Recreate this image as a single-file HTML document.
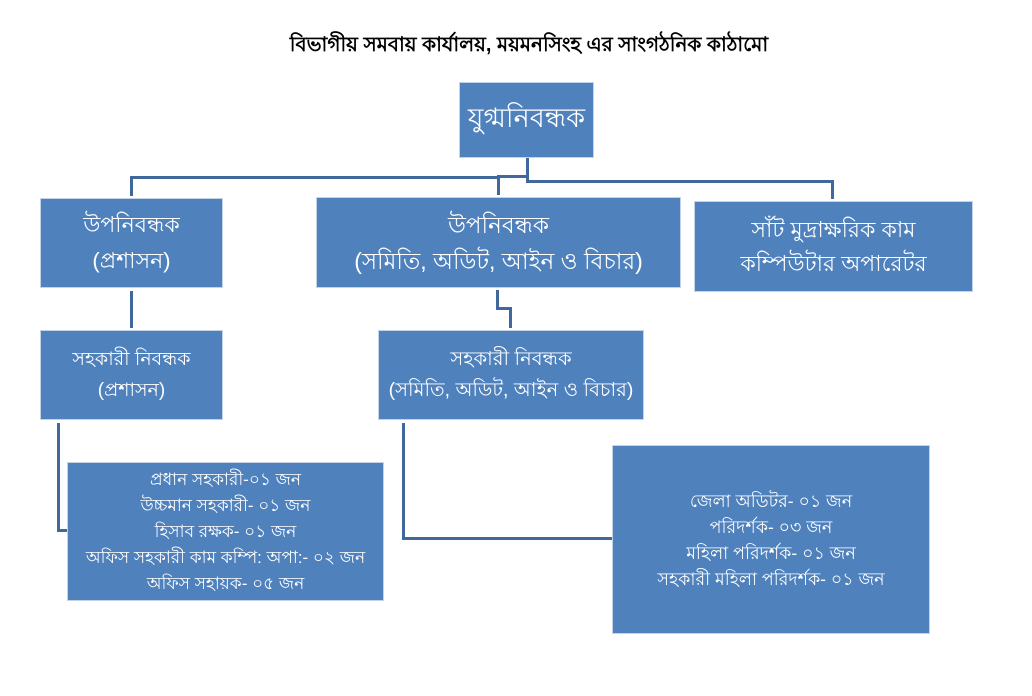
<!DOCTYPE html>
<html><head><meta charset="utf-8"><style>
body{margin:0;width:1032px;height:696px;background:#fff;position:relative;overflow:hidden;font-family:"Liberation Sans",sans-serif}
.b{position:absolute;background:#4f81bd;border:1px solid #c5d3e6;box-sizing:border-box;color:#fff;display:flex;align-items:center;justify-content:center;text-align:center;flex-direction:column;white-space:nowrap}
.l{position:absolute;background:#41689c}
.t{position:absolute;left:13px;width:1032px;top:30px;text-align:center;font-weight:bold;font-size:20px;color:#000}
</style></head><body>
<div class="t">বিভাগীয় সমবায় কার্যালয়, ময়মনসিংহ এর সাংগঠনিক কাঠামো</div>
<div class="b" style="left:459px;top:82px;width:135px;height:76px;font-size:27px">যুগ্মনিবন্ধক</div>
<div class="b" style="left:40px;top:198px;width:183px;height:90px;font-size:22px;line-height:36px">উপনিবন্ধক<br>(প্রশাসন)</div>
<div class="b" style="left:316px;top:197px;width:365px;height:91px;font-size:23px;line-height:36px">উপনিবন্ধক<br>(সমিতি, অডিট, আইন ও বিচার)</div>
<div class="b" style="left:694px;top:201px;width:279px;height:91px;font-size:22px;line-height:34px">সাঁট মুদ্রাক্ষরিক কাম<br>কম্পিউটার অপারেটর</div>
<div class="b" style="left:40px;top:330px;width:183px;height:90px;font-size:19px;line-height:31px">সহকারী নিবন্ধক<br>(প্রশাসন)</div>
<div class="b" style="left:378px;top:330px;width:266px;height:90px;font-size:19.5px;line-height:31px">সহকারী নিবন্ধক<br>(সমিতি, অডিট, আইন ও বিচার)</div>
<div class="b" style="left:67px;top:462px;width:317px;height:139px;font-size:17px;line-height:26px">প্রধান সহকারী-০১ জন<br>উচ্চমান সহকারী- ০১ জন<br>হিসাব রক্ষক- ০১ জন<br>অফিস সহকারী কাম কম্পি: অপা:- ০২ জন<br>অফিস সহায়ক- ০৫ জন</div>
<div class="b" style="left:612px;top:445px;width:318px;height:189px;font-size:17.5px;line-height:26px">জেলা অডিটর- ০১ জন<br>পরিদর্শক- ০৩ জন<br>মহিলা পরিদর্শক- ০১ জন<br>সহকারী মহিলা পরিদর্শক- ০১ জন</div>
<div class="l" style="left:526px;top:158px;width:3px;height:25px"></div>
<div class="l" style="left:497px;top:175px;width:31px;height:3px"></div>
<div class="l" style="left:130px;top:176px;width:370px;height:3px"></div>
<div class="l" style="left:130px;top:176px;width:3px;height:20px"></div>
<div class="l" style="left:497px;top:175px;width:3px;height:20px"></div>
<div class="l" style="left:526px;top:180px;width:308px;height:3px"></div>
<div class="l" style="left:831px;top:180px;width:3px;height:19px"></div>
<div class="l" style="left:130px;top:291px;width:3px;height:37px"></div>
<div class="l" style="left:496px;top:290px;width:3px;height:19px"></div>
<div class="l" style="left:496px;top:307px;width:16px;height:3px"></div>
<div class="l" style="left:509px;top:307px;width:3px;height:21px"></div>
<div class="l" style="left:57px;top:423px;width:3px;height:109px"></div>
<div class="l" style="left:57px;top:529px;width:10px;height:3px"></div>
<div class="l" style="left:402px;top:423px;width:3px;height:117px"></div>
<div class="l" style="left:402px;top:537px;width:210px;height:3px"></div>
</body></html>
